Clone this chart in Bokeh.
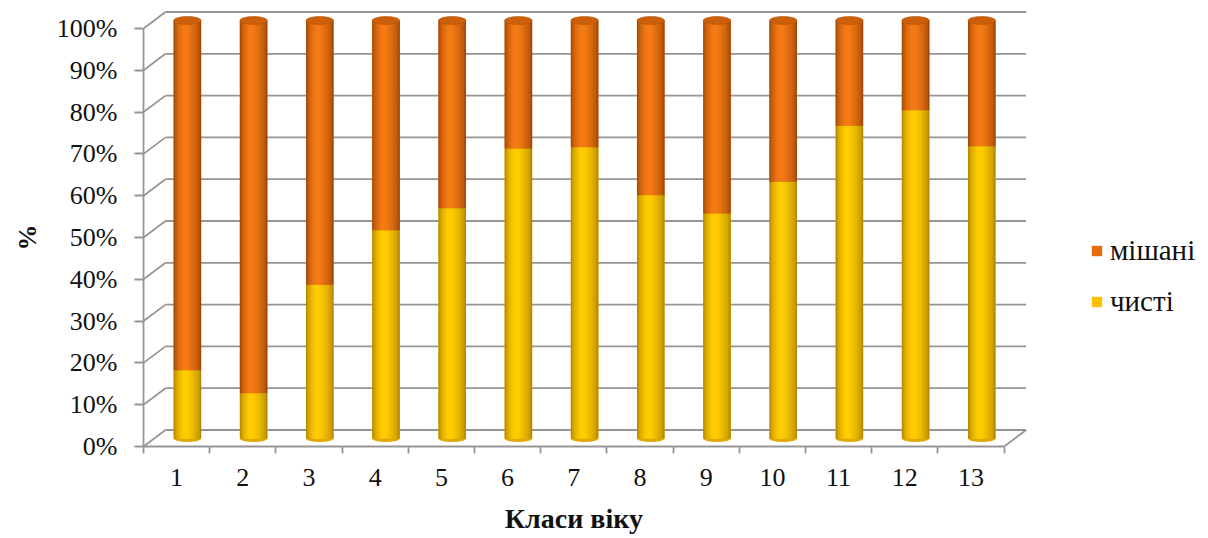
import math

from bokeh.plotting import figure
from bokeh.models import (ColumnDataSource, FixedTicker, NumeralTickFormatter,
                          Legend, LegendItem, LinearAxis, Range1d, Title)
from bokeh.transform import dodge
from bokeh.embed import file_html
from bokeh.resources import INLINE

# ---- data -------------------------------------------------------------
age_classes = ["1", "2", "3", "4", "5", "6", "7", "8", "9", "10", "11", "12", "13"]
pure_share = [16.3, 10.8, 36.8, 49.8, 55.1, 69.4, 69.7, 58.2, 53.8, 61.4, 74.8, 78.5, 69.9]
mixed_share = [83.7, 89.2, 63.2, 50.2, 44.9, 30.6, 30.3, 41.8, 46.2, 38.6, 25.2, 21.5, 30.1]
series_names = ["мішані", "чисті"]
y_ticks = [0.0, 0.1, 0.2, 0.3, 0.4, 0.5, 0.6, 0.7, 0.8, 0.9, 1.0]
x_title = "Класи віку"
y_title = "%"

# ---- layout -----------------------------------------------------------
W, H = 1208, 538
LEFT, BOTTOM = 143, 92
CAT_PX = 66.2          # pixels per category
UNIT_PX = 418.0        # pixels per 100 %
n = len(age_classes)

x_end = (W - LEFT) / CAT_PX
y_end = (H - BOTTOM) / UNIT_PX

BACK_DX, BACK_DY = 22.0 / CAT_PX, 16.5 / UNIT_PX     # back wall offset
MID_DX, MID_DY = 10.8 / CAT_PX, 8.0 / UNIT_PX        # cylinder plane offset
BAR_W = 27.5 / CAT_PX

GRID_COLOR = "#959595"
TEXT_COLOR = "#111111"
FONT = "Liberation Serif"
FONT_SIZE = "26px"

p = figure(width=W, height=H, x_range=Range1d(0, x_end), y_range=Range1d(0, y_end),
           output_backend="svg", toolbar_location=None, title=None,
           min_border_left=LEFT, min_border_right=0, min_border_top=0,
           min_border_bottom=BOTTOM)
p.outline_line_color = None
p.grid.visible = False
p.background_fill_color = "white"
p.border_fill_color = "white"

# ---- 3D grid: back wall lines + left connectors -----------------------
gx0, gy0, gx1, gy1 = [], [], [], []
for t in y_ticks:
    gx0 += [0, BACK_DX]
    gy0 += [t, t + BACK_DY]
    gx1 += [BACK_DX, n + BACK_DX]
    gy1 += [t + BACK_DY, t + BACK_DY]
# floor edge on the right
gx0.append(n); gy0.append(0); gx1.append(n + BACK_DX); gy1.append(BACK_DY)
p.segment(x0=gx0, y0=gy0, x1=gx1, y1=gy1, line_color=GRID_COLOR, line_width=1.8)

# ---- cylinders --------------------------------------------------------
totals = [a + b for a, b in zip(pure_share, mixed_share)]
src = ColumnDataSource(dict(
    x=[i + 0.5 for i in range(n)],
    base=[MID_DY] * n,
    pure_top=[v / t + MID_DY for v, t in zip(pure_share, totals)],
    full_top=[(v + m) / t + MID_DY for v, m, t in zip(pure_share, mixed_share, totals)],
))

ORANGE, YELLOW = "#e46c0a", "#ffc000"
ORANGE_DARK, ORANGE_LIGHT = (158, 70, 6), (244, 122, 20)
YELLOW_DARK, YELLOW_LIGHT = (176, 132, 4), (255, 204, 0)


def lerp(dark, light, k):
    r, g, b = (int(round(d + (l - d) * k)) for d, l in zip(dark, light))
    return "#%02x%02x%02x" % (r, g, b)


# bottom rim of the yellow part
p.ellipse(x=dodge("x", MID_DX), y="base", width=BAR_W, height=7, height_units="screen",
          fill_color="#e0a800", line_color=None, source=src)

# flat bodies (also used as legend swatches)
r_pure = p.vbar(x=dodge("x", MID_DX), width=BAR_W, bottom="base", top="pure_top",
                fill_color=YELLOW, line_color=None, source=src)
r_mixed = p.vbar(x=dodge("x", MID_DX), width=BAR_W, bottom="pure_top", top="full_top",
                 fill_color=ORANGE, line_color=None, source=src)

# cylindrical shading: nested bands, narrowing towards a highlight left of centre
LAYERS = 12
for j in range(LAYERS):
    s = j / (LAYERS - 1)
    w = BAR_W * (1 - 0.82 * s)
    c = MID_DX - 0.16 * (BAR_W / 2) * s
    k = s ** 0.55
    p.vbar(x=dodge("x", c), width=w, bottom="base", top="pure_top",
           fill_color=lerp(YELLOW_DARK, YELLOW_LIGHT, k), line_color=None, source=src)
    p.vbar(x=dodge("x", c), width=w, bottom="pure_top", top="full_top",
           fill_color=lerp(ORANGE_DARK, ORANGE_LIGHT, k), line_color=None, source=src)

# top cap of the cylinders
p.ellipse(x=dodge("x", MID_DX), y="full_top", width=BAR_W, height=8, height_units="screen",
          fill_color="#cc600a", line_color="#b35307", line_width=0.6, source=src)

# ---- axes -------------------------------------------------------------
xa = p.xaxis[0]
xa.ticker = FixedTicker(ticks=[i + 0.5 for i in range(n)], minor_ticks=list(range(n + 1)))
xa.major_label_overrides = {i + 0.5: lab for i, lab in enumerate(age_classes)}
xa.bounds = (0, n)
xa.major_tick_out = 0
xa.major_tick_in = 0
xa.minor_tick_out = 7
xa.minor_tick_in = 0
xa.minor_tick_line_color = GRID_COLOR
xa.minor_tick_line_width = 1.8
xa.axis_line_color = GRID_COLOR
xa.axis_line_width = 1.8
xa.major_label_standoff = 15
xa.major_label_text_font = FONT
xa.major_label_text_font_size = FONT_SIZE
xa.major_label_text_color = TEXT_COLOR

ya = p.yaxis[0]
ya.ticker = FixedTicker(ticks=y_ticks, minor_ticks=[])
ya.formatter = NumeralTickFormatter(format="0%")
ya.bounds = (0, 1)
ya.major_tick_out = 9
ya.major_tick_in = 0
ya.major_tick_line_color = GRID_COLOR
ya.major_tick_line_width = 1.8
ya.axis_line_color = GRID_COLOR
ya.axis_line_width = 1.8
ya.major_label_standoff = 17
ya.major_label_text_font = FONT
ya.major_label_text_font_size = FONT_SIZE
ya.major_label_text_color = TEXT_COLOR

# ---- axis titles ------------------------------------------------------
# x title: a single-tick outer axis centred under the category span
x_title_axis = LinearAxis(ticker=FixedTicker(ticks=[n / 2], minor_ticks=[]),
                          major_label_overrides={n / 2: x_title},
                          axis_line_color=None, major_tick_line_color=None,
                          major_tick_out=0, major_tick_in=0, major_label_standoff=14,
                          major_label_text_font=FONT, major_label_text_font_style="bold",
                          major_label_text_font_size="28px",
                          major_label_text_color=TEXT_COLOR)
p.add_layout(x_title_axis, "below")

# y title: side title, shifted to the middle of the 0..100 % span
p.add_layout(Title(text=y_title, align="left", offset=196, standoff=20,
                   vertical_align="top", text_font=FONT, text_font_style="bold",
                   text_font_size=FONT_SIZE, text_color=TEXT_COLOR), "left")

# ---- legend -----------------------------------------------------------
legend = Legend(items=[LegendItem(label=series_names[0], renderers=[r_mixed]),
                       LegendItem(label=series_names[1], renderers=[r_pure])],
                location=(947, 128), glyph_width=13, glyph_height=13, label_standoff=7,
                spacing=18, padding=0, margin=0, border_line_color=None,
                background_fill_alpha=0, label_text_font=FONT,
                label_text_font_size="29px", label_text_color=TEXT_COLOR)
p.add_layout(legend)

open("out.html", "w").write(file_html(p, INLINE))
